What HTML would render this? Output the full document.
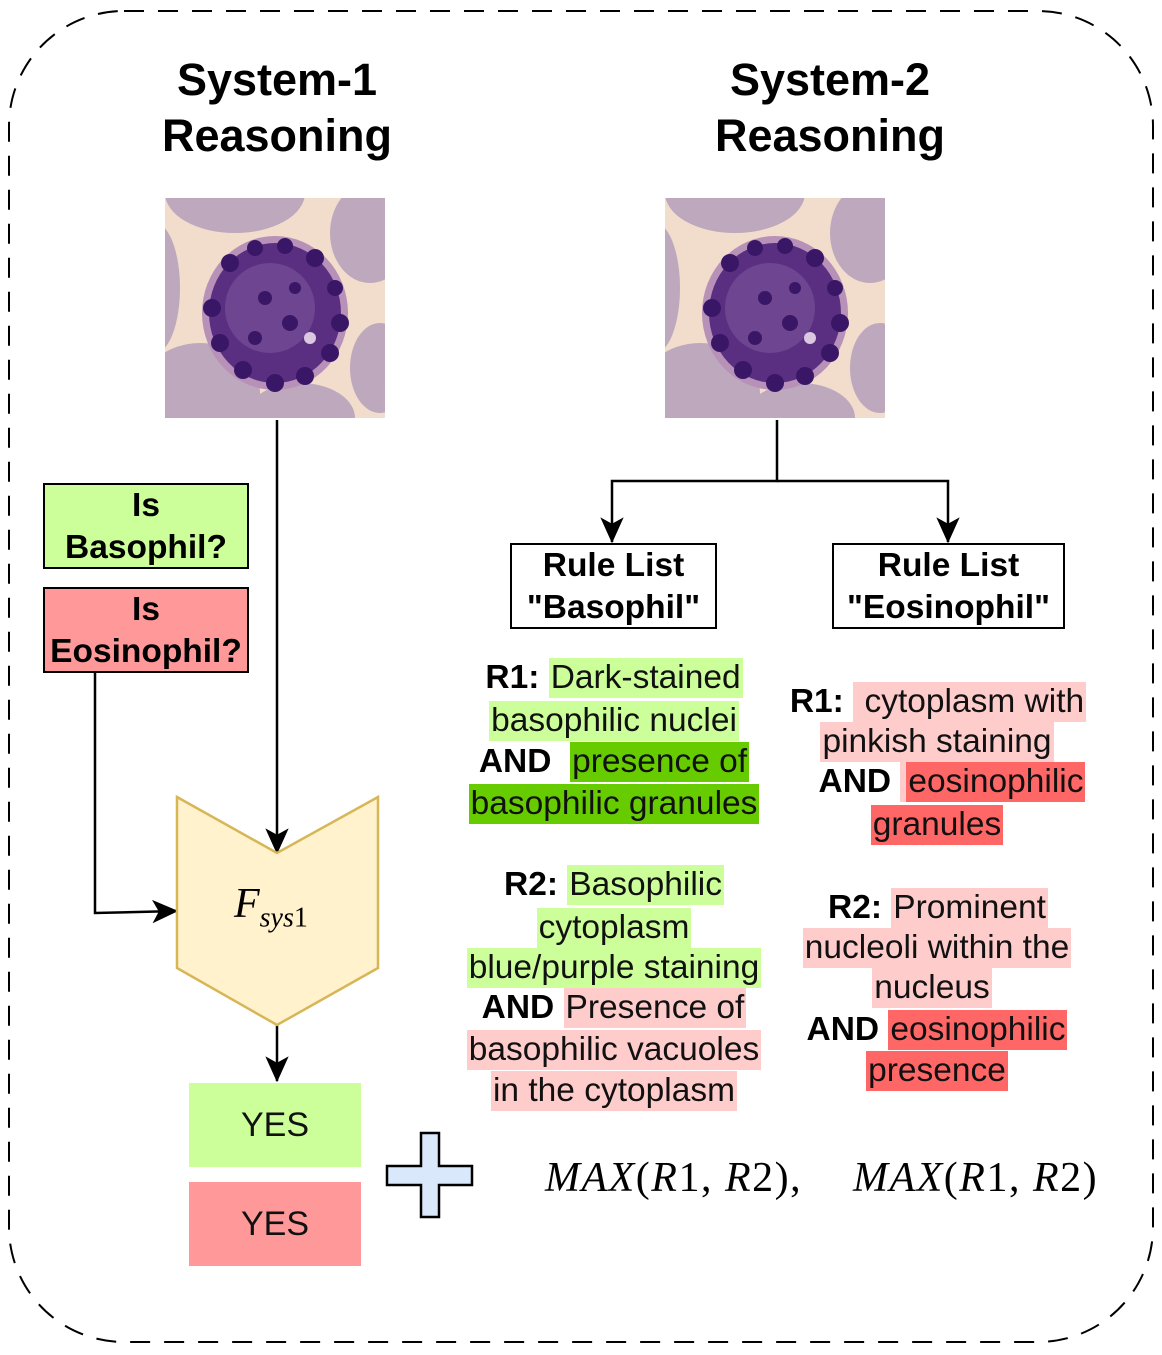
<!DOCTYPE html>
<html><head><meta charset="utf-8"><style>
body{margin:0;width:1162px;height:1355px;background:#fff;position:relative;overflow:hidden;font-family:"Liberation Sans",Arial,sans-serif;}
.t{position:absolute;font-weight:bold;font-size:45px;text-align:center;line-height:56px;color:#000}
.ln{position:absolute;width:600px;text-align:center;font-size:33.5px;height:42px;line-height:42px;white-space:nowrap;color:#111}
.ln span{display:inline-block;height:40px;line-height:40px;padding:0 2px}
.lg{background:#ccff99}.dg{background:#66cc00}.pk{background:#ffcccc}.rd{background:#ff6666}
.ln b{color:#000}
.box{position:absolute;border:2.5px solid #000;box-sizing:border-box;text-align:center;font-weight:bold;font-size:33.5px;line-height:42px;color:#000;white-space:nowrap}
.yes{position:absolute;text-align:center;font-size:34px;color:#111}
.m{position:absolute;font-family:"Liberation Serif",serif;font-style:italic;font-size:42px;white-space:nowrap;letter-spacing:1.5px}
</style></head><body>
<svg width="1162" height="1355" style="position:absolute;left:0;top:0">
<defs>
<marker id="ah" viewBox="0 0 20 20" markerWidth="26" markerHeight="26" refX="19" refY="10" orient="auto" markerUnits="userSpaceOnUse"><path d="M0,1 L20,10 L0,19 L5,10 z" fill="#000"/></marker>
<clipPath id="c1"><rect x="0" y="0" width="220" height="220"/></clipPath>
<g id="cell">
<rect width="220" height="220" fill="#f2dccb"/>
<g clip-path="url(#c1)" fill="#b8a3bd" opacity="0.9">
<ellipse cx="70" cy="-5" rx="70" ry="40"/>
<ellipse cx="205" cy="35" rx="40" ry="50"/>
<ellipse cx="-10" cy="90" rx="25" ry="65"/>
<ellipse cx="35" cy="195" rx="60" ry="50"/>
<ellipse cx="135" cy="220" rx="55" ry="35"/>
<ellipse cx="215" cy="170" rx="30" ry="45"/>
</g>
<ellipse cx="110" cy="115" rx="73" ry="77" fill="#b891b8"/>
<ellipse cx="110" cy="115" rx="66" ry="70" fill="#5a2f82"/>
<ellipse cx="105" cy="110" rx="45" ry="45" fill="#6d4590"/>
<g fill="#3a1766">
<circle cx="65" cy="65" r="9"/><circle cx="90" cy="50" r="8"/><circle cx="120" cy="48" r="8"/><circle cx="150" cy="60" r="9"/><circle cx="170" cy="90" r="8"/><circle cx="175" cy="125" r="9"/><circle cx="165" cy="155" r="9"/><circle cx="140" cy="178" r="9"/><circle cx="110" cy="185" r="9"/><circle cx="78" cy="172" r="9"/><circle cx="55" cy="145" r="9"/><circle cx="47" cy="110" r="9"/><circle cx="100" cy="100" r="7"/><circle cx="125" cy="125" r="8"/><circle cx="90" cy="140" r="7"/><circle cx="130" cy="90" r="6"/>
</g>
<circle cx="145" cy="140" r="6" fill="#d9c8e0"/>
</g>
</defs>
<rect x="9" y="11" width="1144" height="1331" rx="115" ry="115" fill="none" stroke="#000" stroke-width="2" stroke-dasharray="20,14"/>
<use href="#cell" x="165" y="198"/>
<use href="#cell" x="665" y="198"/>
<g stroke="#000" stroke-width="2.5" fill="none">
<line x1="277" y1="420" x2="277" y2="853" marker-end="url(#ah)"/>
<polyline points="95,673 95,913 177,911" marker-end="url(#ah)"/>
<line x1="277" y1="1025" x2="277" y2="1081" marker-end="url(#ah)"/>
<polyline points="777,420 777,481 612,481 612,542" marker-end="url(#ah)"/>
<polyline points="777,481 948,481 948,542" marker-end="url(#ah)"/>
</g>
<polygon points="177,797 277,853 378,797 378,968 277,1025 177,968" fill="#fff2cc" stroke="#d6b656" stroke-width="2.5"/>
<path d="M421,1133 H439 V1166 H472 V1185 H439 V1217 H421 V1185 H387 V1166 H421 Z" fill="#dae8fc" stroke="#000" stroke-width="2.5"/>
</svg>
<div class="t" style="left:127px;top:52px;width:300px">System-1<br>Reasoning</div>
<div class="t" style="left:680px;top:52px;width:300px">System-2<br>Reasoning</div>
<div class="box" style="left:43px;top:483px;width:206px;height:86px;background:#ccff99">Is<br>Basophil?</div>
<div class="box" style="left:43px;top:587px;width:206px;height:86px;background:#ff9999">Is<br>Eosinophil?</div>
<div class="box" style="left:510px;top:543px;width:207px;height:86px;background:#fff">Rule List<br>"Basophil"</div>
<div class="box" style="left:832px;top:543px;width:233px;height:86px;background:#fff">Rule List<br>"Eosinophil"</div>
<div style="position:absolute;left:234px;top:880px;font-family:'Liberation Serif',serif;font-style:italic;font-size:42px">F<sub style="font-size:28px">sys</sub><sub style="font-size:28px;font-style:normal">1</sub></div>
<div class="yes" style="left:189px;top:1083px;width:172px;height:84px;line-height:84px;background:#ccff99">YES</div>
<div class="yes" style="left:189px;top:1182px;width:172px;height:84px;line-height:84px;background:#ff9999">YES</div>
<div class="m" style="left:545px;top:1154px">MAX<span style="font-style:normal">(</span>R<span style="font-style:normal">1, </span>R<span style="font-style:normal">2),</span></div>
<div class="m" style="left:853px;top:1154px">MAX<span style="font-style:normal">(</span>R<span style="font-style:normal">1, </span>R<span style="font-style:normal">2)</span></div>

<div class="ln" style="left:314px;top:657px"><b>R1: </b><span class="lg">Dark-stained</span></div>
<div class="ln" style="left:314px;top:700px"><span class="lg">basophilic nuclei</span></div>
<div class="ln" style="left:314px;top:741px"><b>AND </b>&nbsp;<span class="dg">presence of</span></div>
<div class="ln" style="left:314px;top:783px"><span class="dg">basophilic granules</span></div>
<div class="ln" style="left:314px;top:864px"><b>R2: </b><span class="lg">Basophilic</span></div>
<div class="ln" style="left:314px;top:907px"><span class="lg">cytoplasm</span></div>
<div class="ln" style="left:314px;top:947px"><span class="lg">blue/purple staining</span></div>
<div class="ln" style="left:314px;top:987px"><b>AND </b><span class="pk">Presence of</span></div>
<div class="ln" style="left:314px;top:1029px"><span class="pk">basophilic vacuoles</span></div>
<div class="ln" style="left:314px;top:1070px"><span class="pk">in the cytoplasm</span></div>

<div class="ln" style="left:638px;top:681px"><b>R1: </b><span class="pk">&nbsp;cytoplasm with</span></div>
<div class="ln" style="left:637px;top:721px"><span class="pk">pinkish staining</span></div>
<div class="ln" style="left:652px;top:761px"><b>AND </b><span class="pk" style="padding:0 0 0 6px"><span class="rd">eosinophilic</span></span></div>
<div class="ln" style="left:637px;top:804px"><span class="rd">granules</span></div>
<div class="ln" style="left:638px;top:887px"><b>R2: </b><span class="pk">Prominent</span></div>
<div class="ln" style="left:637px;top:927px"><span class="pk">nucleoli within the</span></div>
<div class="ln" style="left:632px;top:967px"><span class="pk">nucleus</span></div>
<div class="ln" style="left:637px;top:1009px"><b>AND </b><span class="rd">eosinophilic</span></div>
<div class="ln" style="left:637px;top:1050px"><span class="rd">presence</span></div>
</body></html>
